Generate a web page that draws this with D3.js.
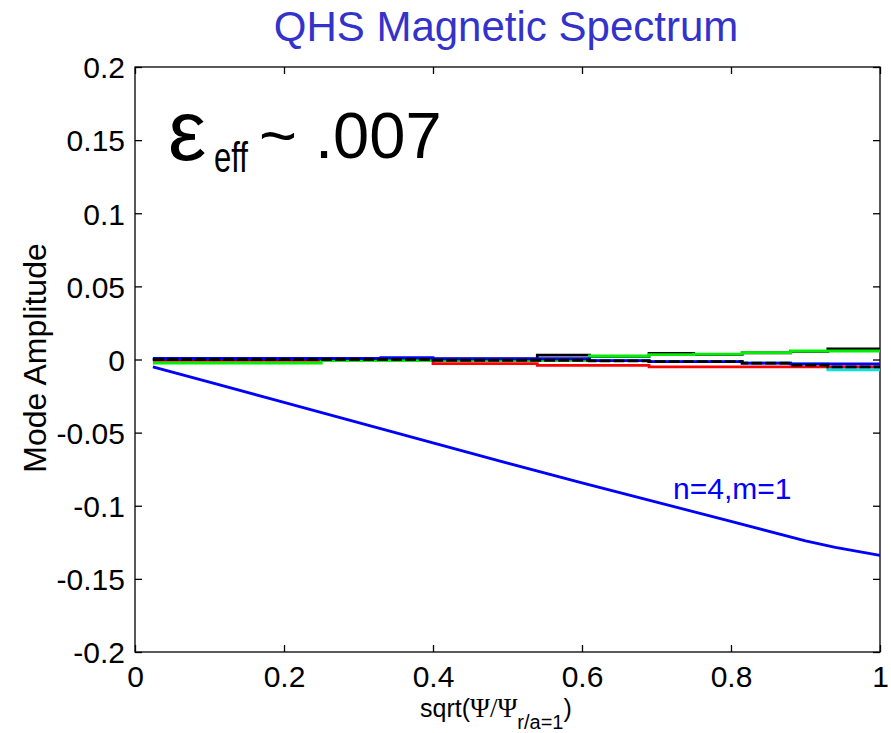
<!DOCTYPE html>
<html><head><meta charset="utf-8">
<script src="https://cdn.jsdelivr.net/npm/d3@7"></script>
<style>body{margin:0;background:#fff;} text{font-family:"Liberation Sans",Arial,sans-serif;}</style>
</head><body><svg id="c" width="891" height="733"></svg>
<script>
// ---- data ----
const xTicks = [0, 0.2, 0.4, 0.6, 0.8, 1];
const xTickLabels = ["0", "0.2", "0.4", "0.6", "0.8", "1"];
const yTicks = [0.2, 0.15, 0.1, 0.05, 0, -0.05, -0.1, -0.15, -0.2];
const yTickLabels = ["0.2", "0.15", "0.1", "0.05", "0", "-0.05", "-0.1", "-0.15", "-0.2"];

// dominant mode n=4, m=1
const modeX    = [0.024, 0.1, 0.2, 0.3, 0.4, 0.5, 0.6, 0.7, 0.8, 0.9, 0.94, 1.0];
const modeVals = [-0.005, -0.0155, -0.0293, -0.0431, -0.057, -0.0708, -0.0843, -0.0975, -0.1107, -0.124, -0.1285, -0.134];

// small modes (step-like traces near zero)
const stepX      = [0.024, 0.25, 0.33, 0.40, 0.54, 0.61, 0.69, 0.75, 0.815, 0.88, 0.93, 1.0];
const cyanVals   = [0, 0, 0, 0, -0.0005, -0.0008, -0.0015, -0.0015, -0.0025, -0.003, -0.007, -0.007];
const redVals    = [-0.0005, -0.0005, -0.0005, -0.0028, -0.004, -0.004, -0.005, -0.005, -0.005, -0.005, -0.005, -0.005];
const blackVals  = [0.0003, 0.0003, 0.0003, 0.0003, 0.003, 0.0022, 0.0042, 0.0035, 0.0045, 0.0055, 0.0072, 0.0072];
const greenVals  = [-0.0025, -0.0008, -0.0008, -0.0008, -0.0008, 0.0024, 0.0033, 0.0037, 0.0047, 0.0058, 0.0058, 0.0058];
const blueVals   = [0.0007, 0.0007, 0.0012, 0.0005, 0.0005, -0.0008, -0.0015, -0.0015, -0.0025, -0.003, -0.003, -0.003];
const dashVals   = [0, 0, 0, -0.0005, -0.0005, -0.001, -0.0015, -0.0015, -0.0025, -0.0038, -0.005, -0.005];

// ---- drawing ----
const svg = d3.select("#c");
const L = 135, R = 880, T = 67, B = 652;
const x = d3.scaleLinear().domain([0, 1]).range([L, R]);
const y = d3.scaleLinear().domain([-0.2, 0.2]).range([B, T]);

// title
svg.append("text").attr("x", 506).attr("y", 41).attr("text-anchor", "middle")
  .attr("font-size", 42).attr("fill", "#3333cc").text("QHS Magnetic Spectrum");

// box
svg.append("rect").attr("x", L).attr("y", T).attr("width", R - L).attr("height", B - T)
  .attr("fill", "none").attr("stroke", "#000").attr("stroke-width", 1.3);

// axes with inward ticks
const fmtX = d => xTickLabels[xTicks.indexOf(d)];
const fmtY = d => yTickLabels[yTicks.indexOf(d)];
const gxB = svg.append("g").attr("transform", `translate(0,${B})`)
  .call(d3.axisBottom(x).tickValues(xTicks).tickFormat(fmtX).tickSizeInner(-7).tickSizeOuter(0).tickPadding(14));
const gxT = svg.append("g").attr("transform", `translate(0,${T})`)
  .call(d3.axisTop(x).tickValues(xTicks).tickFormat("").tickSizeInner(-7).tickSizeOuter(0));
const gyL = svg.append("g").attr("transform", `translate(${L},0)`)
  .call(d3.axisLeft(y).tickValues(yTicks).tickFormat(fmtY).tickSizeInner(-7).tickSizeOuter(0).tickPadding(10));
const gyR = svg.append("g").attr("transform", `translate(${R},0)`)
  .call(d3.axisRight(y).tickValues(yTicks).tickFormat("").tickSizeInner(-7).tickSizeOuter(0));
[gxB, gxT, gyL, gyR].forEach(g => {
  g.select(".domain").remove();
  g.selectAll("line").attr("stroke", "#000").attr("stroke-width", 1.3);
  g.selectAll("text").attr("font-size", 30).attr("fill", "#000")
    .attr("font-family", '"Liberation Sans",Arial,sans-serif');
});
gyL.selectAll("text").attr("dy", "0.36em");

// near-zero step traces
const stepLine = vals => d3.line().curve(d3.curveStepAfter)
  .x((d, i) => x(stepX[i])).y(d => y(d))(vals);
const traces = [
  {v: cyanVals, c: "#00e5e5", dash: null},
  {v: redVals, c: "#ff0000", dash: null},
  {v: blackVals, c: "#000000", dash: null},
  {v: greenVals, c: "#00ee00", dash: null},
  {v: blueVals, c: "#0000ff", dash: null},
  {v: dashVals, c: "#000000", dash: "11,3"}
];
traces.forEach(t => {
  svg.append("path").attr("d", stepLine(t.v)).attr("fill", "none")
    .attr("stroke", t.c).attr("stroke-width", 2.8)
    .attr("stroke-dasharray", t.dash);
});

// dominant mode
svg.append("path").attr("d", d3.line().x((d, i) => x(modeX[i])).y(d => y(d))(modeVals))
  .attr("fill", "none").attr("stroke", "#0000ff").attr("stroke-width", 2.8);
svg.append("text").attr("x", 673).attr("y", 499).attr("font-size", 30).attr("fill", "#0000ff")
  .text("n=4,m=1");

// annotation
svg.append("text").attr("x", 168).attr("y", 160).attr("font-size", 86).attr("fill", "#000").text("ε");
svg.append("text").attr("transform", "translate(214,172) scale(0.74,1)").attr("font-size", 42)
  .attr("fill", "#000").text("eff");
svg.append("text").attr("x", 259).attr("y", 158).attr("font-size", 65).attr("fill", "#000").text("~ .007");

// axis labels
svg.append("text").attr("transform", "translate(46,358) rotate(-90)").attr("text-anchor", "middle")
  .attr("font-size", 32).attr("fill", "#000").text("Mode Amplitude");
const xl = svg.append("text").attr("x", 420).attr("y", 717)
  .attr("font-size", 25).attr("fill", "#000");
xl.append("tspan").text("sqrt(");
xl.append("tspan").attr("font-family", '"Liberation Serif","Times New Roman",serif').attr("font-size", 27).text("Ψ/Ψ");
xl.append("tspan").attr("font-size", 20).attr("dy", 12).text("r/a=1");
xl.append("tspan").attr("dy", -12).text(")");
</script></body></html>
